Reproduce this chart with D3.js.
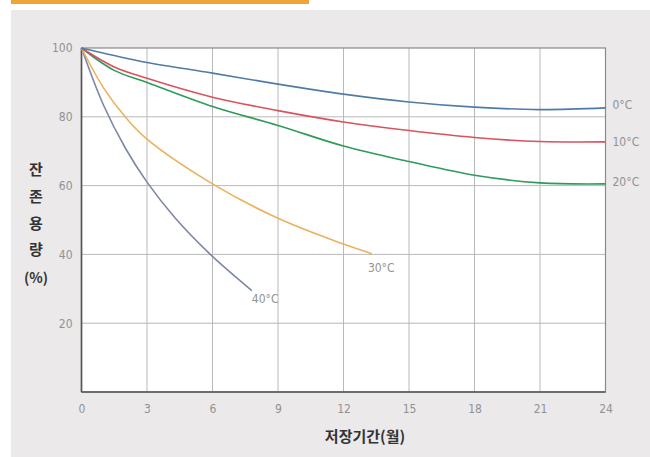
<!DOCTYPE html>
<html>
<head>
<meta charset="utf-8">
<script src="https://cdn.jsdelivr.net/npm/d3@7"></script>
<style>
  body { margin: 0; background: #fff; }
  svg { display: block; }
</style>
</head>
<body>
<script>
// Données (mois de stockage -> capacité restante %)
const xTicks = [0, 3, 6, 9, 12, 15, 18, 21, 24];
const yTicks = [20, 40, 60, 80, 100];

const monthsLong = [0, 1.5, 3, 6, 9, 12, 15, 18, 21, 24];
const cap0 = [100, 97.8, 95.8, 92.7, 89.5, 86.6, 84.3, 82.8, 82.1, 82.6];
const cap10 = [100, 94.5, 91.2, 85.7, 81.8, 78.5, 76, 74, 72.8, 72.7];
const cap20 = [100, 93.5, 90, 83, 77.5, 71.5, 67, 63, 60.8, 60.5];

const months30 = [0, 1, 2, 3, 6, 9, 12, 13.3];
const cap30 = [100, 88.5, 80, 73.5, 60.5, 50.5, 43, 40.2];

const months40 = [0, 1, 2, 3, 4.3, 5.9, 7.8];
const cap40 = [100, 83.5, 71, 61, 50.5, 40, 29.5];

const seriesNames = ["0°C", "10°C", "20°C", "30°C", "40°C"];
const seriesColors = ["#4f7ca6", "#d9535d", "#2f9a5a", "#ebb25e", "#7c87a9"];

const WIDTH = 650;
const HEIGHT = 457;

const svg = d3.select("body").append("svg")
  .attr("width", WIDTH)
  .attr("height", HEIGHT);

// bandeau orange + fond gris
svg.append("rect").attr("x", 11).attr("y", 0).attr("width", 298).attr("height", 4).attr("fill", "#f0a336");
svg.append("rect").attr("x", 11).attr("y", 10).attr("width", WIDTH - 11).attr("height", HEIGHT - 10).attr("fill", "#ebe9ea");

const x = d3.scaleLinear().domain([0, 24]).range([81.5, 605.5]);
const y = d3.scaleLinear().domain([0, 100]).range([392, 48]);

const font = "'DejaVu Sans Condensed', 'Roboto', sans-serif";

// zone du graphique
svg.append("rect")
  .attr("x", x(0)).attr("y", y(100))
  .attr("width", x(24) - x(0)).attr("height", y(0) - y(100))
  .attr("fill", "#fff");

// grille
const grid = svg.append("g").attr("stroke", "#b9b9b9").attr("stroke-width", 1);
grid.selectAll("line.v").data(xTicks.slice(1, -1)).enter().append("line")
  .attr("x1", d => x(d)).attr("x2", d => x(d))
  .attr("y1", y(100)).attr("y2", y(0));
grid.selectAll("line.h").data(yTicks.slice(0, -1)).enter().append("line")
  .attr("x1", x(0)).attr("x2", x(24))
  .attr("y1", d => y(d)).attr("y2", d => y(d));

// cadre
svg.append("rect")
  .attr("x", x(0)).attr("y", y(100))
  .attr("width", x(24) - x(0)).attr("height", y(0) - y(100))
  .attr("fill", "none").attr("stroke", "#8a8a8a").attr("stroke-width", 1.2);

// axes (sans traits, seulement les étiquettes)
const xAxis = svg.append("g")
  .attr("transform", `translate(0,${y(0)})`)
  .call(d3.axisBottom(x).tickValues(xTicks).tickSize(0).tickPadding(12));
const yAxis = svg.append("g")
  .attr("transform", `translate(${x(0)},0)`)
  .call(d3.axisLeft(y).tickValues(yTicks).tickSize(0).tickPadding(9));
[xAxis, yAxis].forEach(a => {
  a.select(".domain").attr("stroke", "#555").attr("stroke-width", 1.6);
  a.selectAll("text").attr("fill", "#929292").style("font-family", font).style("font-size", "12px");
});
xAxis.select(".domain").attr("d", `M${x(0)},0H${x(24)}`);
yAxis.select(".domain").attr("d", `M0,${y(0)}V${y(100)}`);

// courbes
const allSeries = [
  { xs: monthsLong, ys: cap0 },
  { xs: monthsLong, ys: cap10 },
  { xs: monthsLong, ys: cap20 },
  { xs: months30, ys: cap30 },
  { xs: months40, ys: cap40 }
];

const line = d3.line()
  .x(d => x(d[0]))
  .y(d => y(d[1]))
  .curve(d3.curveCatmullRom.alpha(0.5));

// ordre de dessin : les courbes froides au-dessus
[4, 3, 2, 1, 0].forEach(i => {
  const s = allSeries[i];
  const pts = s.xs.map((m, j) => [m, s.ys[j]]);
  svg.append("path")
    .datum(pts)
    .attr("d", line)
    .attr("fill", "none")
    .attr("stroke", seriesColors[i])
    .attr("stroke-width", 1.6);
});

// étiquettes des courbes
const labelOffsets = [[7, -3], [7, 0], [7, -2], [-4, 14], [0, 8]];
allSeries.forEach((s, i) => {
  const n = s.xs.length - 1;
  svg.append("text")
    .attr("x", x(s.xs[n]) + labelOffsets[i][0])
    .attr("y", y(s.ys[n]) + labelOffsets[i][1])
    .attr("dy", "0.35em")
    .attr("fill", "#929292")
    .style("font-family", font)
    .style("font-size", "12px")
    .text(seriesNames[i]);
});

// titres des axes
const yLabel = ["잔", "존", "용", "량", "(%)"];
const yLabelPos = [170, 197, 224, 250, 278];
svg.append("g").selectAll("text").data(yLabel).enter().append("text")
  .attr("x", 36)
  .attr("y", (d, i) => yLabelPos[i])
  .attr("dy", "0.35em")
  .attr("text-anchor", "middle")
  .attr("fill", "#333")
  .style("font-family", "'Noto Sans CJK KR', sans-serif")
  .style("font-weight", "bold")
  .style("font-size", (d, i) => i === 4 ? "14px" : "15px")
  .text(d => d);

svg.append("text")
  .attr("x", 365)
  .attr("y", 437)
  .attr("dy", "0.35em")
  .attr("text-anchor", "middle")
  .attr("fill", "#333")
  .style("font-family", "'Noto Sans CJK KR', sans-serif")
  .style("font-weight", "bold")
  .style("font-size", "15px")
  .text("저장기간(월)");
</script>
</body>
</html>
